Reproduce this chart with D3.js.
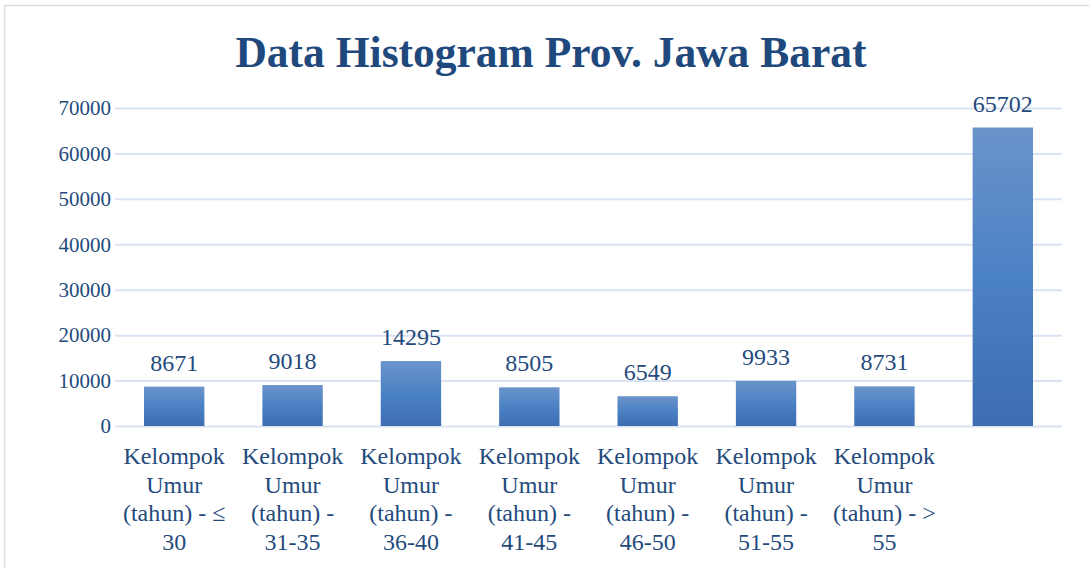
<!DOCTYPE html>
<html>
<head>
<meta charset="utf-8">
<script src="https://cdn.jsdelivr.net/npm/d3@7"></script>
<style>
  body { margin: 0; background: #fff; }
  svg { display: block; }
</style>
</head>
<body>
<svg id="chart" width="1089" height="568"></svg>
<script>
const title = "Data Histogram Prov. Jawa Barat";
const categories = [
    "Kelompok\nUmur\n(tahun) - ≤\n30",
    "Kelompok\nUmur\n(tahun) -\n31-35",
    "Kelompok\nUmur\n(tahun) -\n36-40",
    "Kelompok\nUmur\n(tahun) -\n41-45",
    "Kelompok\nUmur\n(tahun) -\n46-50",
    "Kelompok\nUmur\n(tahun) -\n51-55",
    "Kelompok\nUmur\n(tahun) - >\n55",
    ""
];
const values = [8671, 9018, 14295, 8505, 6549, 9933, 8731, 65702];
const yTicks = [0, 10000, 20000, 30000, 40000, 50000, 60000, 70000];

const svg = d3.select("#chart");
const width = 1089;
const height = 568;
const textColor = "#244a7c";
const labelFont = "'Liberation Serif', serif";

const margin = { top: 108, right: 27, bottom: 142, left: 115 };
const bottomY = height - margin.bottom;

// chart border: only the top and left edges fall inside the picture
svg.append("path")
    .attr("d", `M4.5,${height} V5.5 H${width}`)
    .attr("fill", "none")
    .attr("stroke", "#d9dee6")
    .attr("stroke-width", 1.5);

const defs = svg.append("defs");
const grad = defs.append("linearGradient")
    .attr("id", "barGrad")
    .attr("x1", 0).attr("y1", 0).attr("x2", 0).attr("y2", 1);
grad.append("stop").attr("offset", "0%").attr("stop-color", "#6b93ca");
grad.append("stop").attr("offset", "50%").attr("stop-color", "#4b82c5");
grad.append("stop").attr("offset", "100%").attr("stop-color", "#3c6db0");

const keys = categories.map((c, i) => i);

const xScale = d3.scaleBand()
    .domain(keys)
    .range([margin.left, width - margin.right])
    .paddingInner(0.49)
    .paddingOuter(0.245);

const yScale = d3.scaleLinear()
    .domain([0, 70000])
    .range([bottomY, margin.top]);

const yAxis = d3.axisLeft(yScale)
    .tickValues(yTicks)
    .tickSize(-(width - margin.right - margin.left))
    .tickPadding(4)
    .tickFormat(d3.format("d"));

const yAxisG = svg.append("g")
    .attr("transform", `translate(${margin.left},0)`)
    .call(yAxis);
yAxisG.select(".domain").remove();
yAxisG.selectAll(".tick line")
    .attr("stroke", "#d9e3f2")
    .attr("stroke-width", 2);
yAxisG.selectAll(".tick text")
    .attr("fill", textColor)
    .style("font-family", labelFont)
    .style("font-size", "21px");

svg.selectAll("rect.bar").data(values)
    .enter().append("rect")
    .attr("class", "bar")
    .attr("x", (d, i) => xScale(i))
    .attr("y", d => yScale(d))
    .attr("width", xScale.bandwidth())
    .attr("height", d => bottomY - yScale(d))
    .attr("fill", "url(#barGrad)");

svg.selectAll("text.value").data(values)
    .enter().append("text")
    .attr("class", "value")
    .attr("x", (d, i) => xScale(i) + xScale.bandwidth() / 2)
    .attr("y", d => yScale(d) - 16)
    .attr("text-anchor", "middle")
    .attr("fill", textColor)
    .style("font-family", labelFont)
    .style("font-size", "24px")
    .text(d => d);

// category labels, wrapped as in the original
const catText = svg.selectAll("text.cat").data(categories)
    .enter().append("text")
    .attr("class", "cat")
    .attr("text-anchor", "middle")
    .attr("fill", textColor)
    .style("font-family", labelFont)
    .style("font-size", "24px");

catText.each(function (d, i) {
    const t = d3.select(this);
    const cx = xScale(i) + xScale.bandwidth() / 2;
    d.split("\n").filter(s => s.length).forEach((line, j) => {
        t.append("tspan")
            .attr("x", cx)
            .attr("y", bottomY + 38 + j * 28.5)
            .text(line);
    });
});

svg.append("text")
    .attr("x", 551)
    .attr("y", 67)
    .attr("text-anchor", "middle")
    .attr("fill", "#1f497d")
    .style("font-family", labelFont)
    .style("font-weight", "bold")
    .style("font-size", "43.5px")
    .text(title);
</script>
</body>
</html>
